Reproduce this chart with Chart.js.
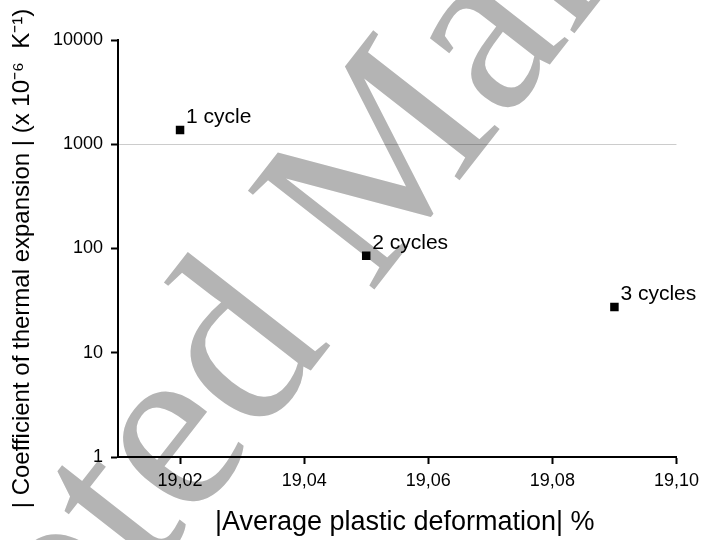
<!DOCTYPE html>
<html>
<head>
<meta charset="utf-8">
<script src="https://cdn.jsdelivr.net/npm/chart.js@4.4.1/dist/chart.umd.min.js"></script>
<style>
  html, body { margin: 0; padding: 0; background: #fff; }
  #wrap { width: 705px; height: 540px; }
</style>
</head>
<body>
<div id="wrap"><canvas id="cteChart"></canvas></div>
<script>
'use strict';

const cycleLabels = ['1 cycle', '2 cycles', '3 cycles'];
const plasticDeformation = [19.02, 19.05, 19.09];
const expansionCoefficient = [1370, 85, 27.5];
const xTickValues = [19.02, 19.04, 19.06, 19.08, 19.10];
const xTickLabels = ['19,02', '19,04', '19,06', '19,08', '19,10'];
const yTickValues = [1, 10, 100, 1000, 10000];
const yTickLabels = ['1', '10', '100', '1000', '10000'];
const watermarkText = 'Accepted Manuscript';

const FONT = "'Liberation Sans', Arial, sans-serif";

// big grey diagonal overlay, only "ted Ma" falls inside the picture
const watermark = {
  id: 'watermark',
  beforeDraw(chart) {
    const ctx = chart.ctx;
    ctx.save();
    ctx.font = "245px 'Liberation Serif', 'Times New Roman', serif";
    ctx.fillStyle = '#b4b4b4';
    ctx.textBaseline = 'alphabetic';
    // anchor = start of the "M" on the baseline
    ctx.translate(370, 295);
    ctx.rotate(-52 * Math.PI / 180);
    const lead = ctx.measureText('Accepted ').width;
    ctx.fillText(watermarkText, -lead, 0);
    ctx.restore();
  },
};

const pointLabels = {
  id: 'pointLabels',
  afterDatasetsDraw(chart) {
    const ctx = chart.ctx;
    const meta = chart.getDatasetMeta(0);
    ctx.save();
    ctx.font = `21px ${FONT}`;
    ctx.fillStyle = '#000';
    ctx.textBaseline = 'alphabetic';
    meta.data.forEach((pt, i) => {
      ctx.fillText(cycleLabels[i], pt.x + 6, pt.y - 7);
    });
    ctx.restore();
  },
};

new Chart(document.getElementById('cteChart'), {
  type: 'scatter',
  data: {
    datasets: [{
      data: plasticDeformation.map((x, i) => ({ x, y: expansionCoefficient[i] })),
      pointStyle: 'rect',
      pointRadius: 6,
      backgroundColor: '#000',
      borderWidth: 0,
    }],
  },
  options: {
    responsive: true,
    maintainAspectRatio: false,
    animation: false,
    layout: { padding: { top: 40, right: 26, left: 0, bottom: 0 } },
    plugins: {
      legend: { display: false },
      tooltip: { enabled: false },
    },
    scales: {
      x: {
        type: 'linear',
        min: 19.01,
        max: 19.10,
        afterBuildTicks: (scale) => { scale.ticks = xTickValues.map((value) => ({ value })); },
        afterFit: (scale) => { scale.height = 83; },
        ticks: {
          color: '#000',
          font: { family: FONT, size: 18 },
          padding: 6,
          maxRotation: 0,
          autoSkip: false,
          callback: (value, index) => xTickLabels[index],
        },
        grid: { drawOnChartArea: false, color: '#000', tickColor: '#000', tickWidth: 2, tickLength: 7 },
        border: { color: '#000', width: 2 },
        title: {
          display: true,
          text: '\u00a0\u00a0|Average plastic deformation| %',
          color: '#000',
          font: { family: FONT, size: 27 },
          padding: { top: 0, bottom: 1 },
        },
      },
      y: {
        type: 'logarithmic',
        min: 1,
        max: 10000,
        afterBuildTicks: (scale) => { scale.ticks = yTickValues.map((value) => ({ value })); },
        afterFit: (scale) => { scale.width = 118; },
        ticks: {
          color: '#000',
          font: { family: FONT, size: 18 },
          padding: 8,
          autoSkip: false,
          callback: (value, index) => yTickLabels[index],
        },
        grid: {
          color: (ctx) => (ctx.tick && ctx.tick.value === 1000 ? 'rgba(0,0,0,0.2)' : 'rgba(0,0,0,0)'),
          lineWidth: 1,
          tickColor: '#000',
          tickWidth: 2,
          tickLength: 7,
        },
        border: { color: '#000', width: 2 },
        title: {
          display: true,
          text: '| Coefficient of thermal expansion | (x 10⁻⁶  K⁻¹)\u00a0\u00a0\u00a0',
          color: '#000',
          font: { family: FONT, size: 24 },
          padding: { top: 8, bottom: 0 },
        },
      },
    },
  },
  plugins: [watermark, pointLabels],
});
</script>
</body>
</html>
